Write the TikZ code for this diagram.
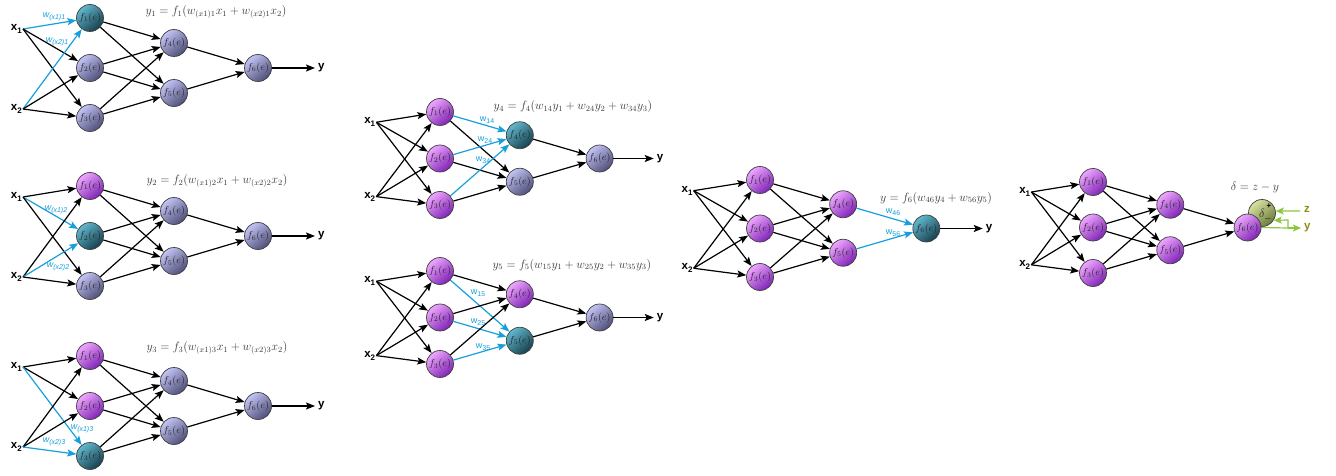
\documentclass[tikz,border=0pt]{standalone}
\usepackage{fontspec}
\setsansfont{Liberation Sans}
\usetikzlibrary{arrows.meta}
\definecolor{wblue}{HTML}{16A0DB}
\definecolor{lgreen}{HTML}{8DC63F}
\definecolor{olivelab}{HTML}{8E8E14}
\definecolor{fgray}{HTML}{3A3A3A}
\definecolor{lavA}{HTML}{C4C4F6}
\definecolor{lavB}{HTML}{8C8CD8}
\definecolor{lavC}{HTML}{4E4E78}
\definecolor{magA}{HTML}{EFA8FF}
\definecolor{magB}{HTML}{C46AF2}
\definecolor{magC}{HTML}{7E22B4}
\definecolor{curA}{HTML}{62B8CE}
\definecolor{curB}{HTML}{2F8196}
\definecolor{curC}{HTML}{163F4C}
\definecolor{delA}{HTML}{D8E4A0}
\definecolor{delB}{HTML}{AEBE72}
\definecolor{delC}{HTML}{6C7A3A}
\newcommand\xl[1]{{\sffamily\bfseries x\raisebox{-0.45ex}{\fontsize{8}{8}\selectfont #1}}}
\newcommand\wl[1]{w\raisebox{-0.45ex}{\fontsize{7}{7}\selectfont #1}}
\tikzset{
  x=1pt, y=-1pt,
  neuron/.style={circle, minimum size=27pt, inner sep=0pt, draw=black!75, line width=0.7pt,
    font=\fontsize{10}{11}\selectfont, text=black!85},
  nlav/.style={top color=lavA, middle color=lavB, bottom color=lavC, shading angle=40},
  nmag/.style={top color=magA, middle color=magB, bottom color=magC, shading angle=40},
  ncur/.style={top color=curA, middle color=curB, bottom color=curC, shading angle=40},
  ndel/.style={top color=delA, middle color=delB, bottom color=delC, shading angle=40},
  n1/.style={nlav}, n2/.style={nlav}, n3/.style={nlav},
  n4/.style={nlav}, n5/.style={nlav}, n6/.style={nlav},
  conn/.style={line width=1.2pt, -{Stealth[length=9pt,width=7pt,inset=1.8pt]}},
  hl/.style={draw=wblue},
  ex1f1/.style={}, ex1f2/.style={}, ex1f3/.style={},
  ex2f1/.style={}, ex2f2/.style={}, ex2f3/.style={},
  ef1f4/.style={}, ef1f5/.style={}, ef2f4/.style={}, ef2f5/.style={},
  ef3f4/.style={}, ef3f5/.style={}, ef4f6/.style={}, ef5f6/.style={},
  xlab/.style={inner sep=1pt, font=\fontsize{11.5}{12}\selectfont},
  ylab/.style={inner sep=1pt, anchor=west, xshift=2pt, font=\fontsize{11.5}{12}\sffamily\bfseries},
  wlab/.style={inner sep=0pt, text=wblue, font=\fontsize{9}{9}\sffamily},
  wlabi/.style={wlab, font=\fontsize{9}{9}\sffamily\itshape},
  formula/.style={inner sep=0pt, text=fgray, font=\fontsize{11.5}{13}\selectfont},
  garrow/.style={draw=lgreen, line width=1.2pt, -{Stealth[length=8pt,width=7pt,inset=1.8pt]}},
}
\newcommand\netpanel[2]{%
\begin{scope}[#2]
  \coordinate (#1x1) at (-67,11);
  \coordinate (#1x2) at (-67,91);
  \coordinate (#1yt) at (225,50);
  \node[xlab, anchor=east] (#1lx1) at (#1x1) {\xl{1}};
  \node[xlab, anchor=east] (#1lx2) at (#1x2) {\xl{2}};
  \node[neuron, n1] (#1f1) at (0,0) {$f_1(e)$};
  \node[neuron, n2] (#1f2) at (0,50) {$f_2(e)$};
  \node[neuron, n3] (#1f3) at (0,100) {$f_3(e)$};
  \node[neuron, n4] (#1f4) at (84,25) {$f_4(e)$};
  \node[neuron, n5] (#1f5) at (84,75) {$f_5(e)$};
  \node[neuron, n6] (#1f6) at (168,50) {$f_6(e)$};
  \draw[conn, ex1f1] (#1x1) -- (#1f1);
  \draw[conn, ex1f2] (#1x1) -- (#1f2);
  \draw[conn, ex1f3] (#1x1) -- (#1f3);
  \draw[conn, ex2f1] (#1x2) -- (#1f1);
  \draw[conn, ex2f2] (#1x2) -- (#1f2);
  \draw[conn, ex2f3] (#1x2) -- (#1f3);
  \draw[conn, ef1f4] (#1f1) -- (#1f4);
  \draw[conn, ef1f5] (#1f1) -- (#1f5);
  \draw[conn, ef2f4] (#1f2) -- (#1f4);
  \draw[conn, ef2f5] (#1f2) -- (#1f5);
  \draw[conn, ef3f4] (#1f3) -- (#1f4);
  \draw[conn, ef3f5] (#1f3) -- (#1f5);
  \draw[conn, ef4f6] (#1f4) -- (#1f6);
  \draw[conn, ef5f6] (#1f5) -- (#1f6);
\end{scope}}
\begin{document}
\begin{tikzpicture}
\useasboundingbox (0,0) rectangle (1336,476);
\fill[white] (0,0) rectangle (1336,476);

% Panel 1
\netpanel{a}{shift={(90,18)}, n1/.style={ncur}, ex1f1/.style={hl}, ex2f1/.style={hl}}
\draw[conn] (af6) -- (ayt);
\node[ylab] (ay) at (ayt) {y};
\node[formula] (aeq) at (216,12) {$y_1 = f_1(w_{(x1)1}x_1 + w_{(x2)1}x_2)$};
\node[wlabi] (aw1) at (54,17) {\wl{(x1)1}};
\node[wlabi] (aw2) at (57,42) {\wl{(x2)1}};

% Panel 2
\netpanel{b}{shift={(90,186)}, n1/.style={nmag}, n2/.style={ncur}, ex1f2/.style={hl}, ex2f2/.style={hl}}
\draw[conn] (bf6) -- (byt);
\node[ylab] (by) at (byt) {y};
\node[formula] (beq) at (217,181) {$y_2 = f_2(w_{(x1)2}x_1 + w_{(x2)2}x_2)$};
\node[wlabi] (bw1) at (56,210) {\wl{(x1)2}};
\node[wlabi] (bw2) at (58,267) {\wl{(x2)2}};

% Panel 3
\netpanel{c}{shift={(90,356)}, n1/.style={nmag}, n2/.style={nmag}, n3/.style={ncur}, ex1f3/.style={hl}, ex2f3/.style={hl}}
\draw[conn] (cf6) -- (cyt);
\node[ylab] (cy) at (cyt) {y};
\node[formula] (ceq) at (217,348) {$y_3 = f_3(w_{(x1)3}x_1 + w_{(x2)3}x_2)$};
\node[wlabi] (cw1) at (82,429) {\wl{(x1)3}};
\node[wlabi] (cw2) at (54,442) {\wl{(x2)3}};

% Panel 4
\netpanel{d}{shift={(440,112)}, xscale=0.95, yscale=0.93, n1/.style={nmag}, n2/.style={nmag}, n3/.style={nmag}, n4/.style={ncur}, ef1f4/.style={hl}, ef2f4/.style={hl}, ef3f4/.style={hl}}
\draw[conn] (df6) -- (dyt);
\node[ylab] (dy) at (dyt) {y};
\node[formula] (deq) at (573,107) {$y_4 = f_4(w_{14}y_1 + w_{24}y_2 + w_{34}y_3)$};
\node[wlab] (dw1) at (487,120) {\wl{14}};
\node[wlab] (dw2) at (485,140) {\wl{24}};
\node[wlab] (dw3) at (483,160) {\wl{34}};

% Panel 5
\netpanel{e}{shift={(440,271)}, xscale=0.95, yscale=0.93, n1/.style={nmag}, n2/.style={nmag}, n3/.style={nmag}, n4/.style={nmag}, n5/.style={ncur}, ef1f5/.style={hl}, ef2f5/.style={hl}, ef3f5/.style={hl}}
\draw[conn] (ef6) -- (eyt);
\node[ylab] (ey) at (eyt) {y};
\node[formula] (eeq) at (572,265) {$y_5 = f_5(w_{15}y_1 + w_{25}y_2 + w_{35}y_3)$};
\node[wlab] (ew1) at (478,293) {\wl{15}};
\node[wlab] (ew2) at (478,322) {\wl{25}};
\node[wlab] (ew3) at (483,347) {\wl{35}};

% Panel 6
\netpanel{f}{shift={(760,180)}, xscale=0.99, yscale=0.97, n1/.style={nmag}, n2/.style={nmag}, n3/.style={nmag}, n4/.style={nmag}, n5/.style={nmag}, n6/.style={ncur}, ef4f6/.style={hl}, ef5f6/.style={hl}}
\draw[conn] (ff6) -- (fyt);
\node[ylab] (fy) at (fyt) {y};
\node[formula] (feq) at (936,198) {$y = f_6(w_{46}y_4 + w_{56}y_5)$};
\node[wlab] (fw1) at (893,212) {\wl{46}};
\node[wlab] (fw2) at (893,233) {\wl{56}};

% Panel 7
\node[neuron, ndel, font=\fontsize{12}{12}\selectfont] (delta) at (1262,213) {$\delta$\hspace{5pt}};
\node[inner sep=0pt, font=\fontsize{8}{8}\sffamily\bfseries] (dplus) at (1269,206) {+};
\node[inner sep=0pt, font=\fontsize{9}{9}\sffamily\bfseries] (dminus) at (1268,219) {$-$};
\netpanel{g}{shift={(1093,182)}, xscale=0.92, yscale=0.91, n1/.style={nmag}, n2/.style={nmag}, n3/.style={nmag}, n4/.style={nmag}, n5/.style={nmag}, n6/.style={nmag}}
\node[formula] (geq) at (1255,187) {$\delta = z - y$};
\coordinate (gzs) at (1300,211);
\coordinate (gye) at (1301,228);
\coordinate (gbr) at (1288,228);
\coordinate (gbu) at (1288,220);
\node[ylab, xshift=-2pt, text=olivelab] (gz) at (1303,209) {z};
\node[ylab, xshift=-2pt, text=olivelab] (gy) at (1303,228) {y};
\draw[garrow] (gzs) -- (delta.8);
\draw[garrow, -] (gf6.east) -- (gbr);
\draw[garrow] (gbr) -- (gye);
\draw[garrow] (gbr) -- (gbu) -- (delta.-32);
\end{tikzpicture}
\end{document}
